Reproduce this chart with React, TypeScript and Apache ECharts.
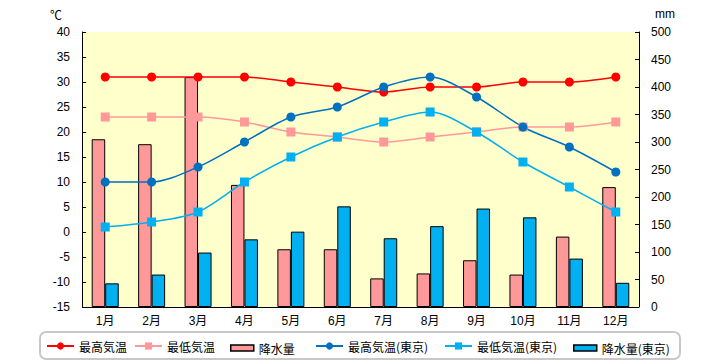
import React, { useEffect, useRef } from "react";
import * as echarts from "echarts";

const months = ["1月", "2月", "3月", "4月", "5月", "6月", "7月", "8月", "9月", "10月", "11月", "12月"];
const maxTemp = [31, 31, 31, 31, 30, 29, 28, 29, 29, 30, 30, 31];
const minTemp = [23, 23, 23, 22, 20, 19, 18, 19, 20, 21, 21, 22];
const rain = [305, 296, 418, 222, 105, 105, 52, 61, 85, 59, 128, 218];
const maxTempTokyo = [10, 10, 13, 18, 23, 25, 29, 31, 27, 21, 17, 12];
const minTempTokyo = [1, 2, 4, 10, 15, 19, 22, 24, 20, 14, 9, 4];
const rainTokyo = [43, 59, 99, 123, 137, 183, 125, 147, 179, 163, 88, 44];

const FONT = "'Liberation Sans', 'Noto Sans CJK JP', sans-serif";
const LFONT = "'Noto Sans CJK JP', sans-serif";

export default function App() {
  const ref = useRef<HTMLDivElement>(null);
  useEffect(() => {
    const chart = echarts.init(ref.current!, null, { renderer: "svg" });
    const lineLegend = (name: string, left: number) => ({
      data: [name],
      left,
      top: 340,
      itemWidth: 27,
      itemHeight: 9,
      textStyle: { color: "#000", fontSize: 12, fontFamily: LFONT },
      padding: 0,
      selectedMode: false,
    });
    const barLegend = (name: string, left: number, color: string) => ({
      data: [{ name, icon: "rect", itemStyle: { color, borderColor: "#000", borderWidth: 1.5 } }],
      left,
      top: 342,
      itemWidth: 23,
      itemHeight: 6,
      textStyle: { color: "#000", fontSize: 12, fontFamily: LFONT, padding: [0, 0, 0, 0] },
      padding: 0,
      selectedMode: false,
    });
    chart.setOption({
      animation: false,
      textStyle: { fontFamily: FONT },
      grid: {
        left: 82,
        right: 81,
        top: 32,
        bottom: 53,
        show: true,
        backgroundColor: "#FFFFCC",
        borderWidth: 0,
      },
      graphic: [
        {
          type: "rect",
          shape: { x: 40, y: 332, width: 640, height: 27, r: 6 },
          style: { fill: "#fff", stroke: "#c8c8c8", lineWidth: 2 },
          z: -1,
        },
        {
          type: "text",
          x: 56,
          y: 14,
          style: { text: "℃", fontSize: 12, fontFamily: LFONT, fill: "#000", align: "center", verticalAlign: "middle" },
        },
        {
          type: "text",
          x: 665,
          y: 14,
          style: { text: "mm", fontSize: 12, fontFamily: FONT, fill: "#000", align: "center", verticalAlign: "middle" },
        },
      ],
      legend: [
        lineLegend("最高気温", 46),
        lineLegend("最低気温", 134),
        barLegend("降水量", 230, "#FF9999"),
        lineLegend("最高気温(東京)", 315),
        lineLegend("最低気温(東京)", 444),
        barLegend("降水量(東京)", 573, "#00B0F0"),
      ],
      xAxis: {
        type: "category",
        data: months,
        axisLine: { show: false },
        axisTick: { show: false },
        axisLabel: { color: "#000", fontSize: 12, margin: 8, fontFamily: FONT },
      },
      yAxis: [
        {
          type: "value",
          min: -15,
          max: 40,
          interval: 5,
          position: "left",
          axisLine: { show: true, lineStyle: { color: "#000", width: 1 } },
          axisTick: { show: true, inside: true, length: 4, lineStyle: { color: "#000" } },
          axisLabel: { color: "#000", fontSize: 12, margin: 12, fontFamily: FONT },
          splitLine: { show: false },
        },
        {
          type: "value",
          min: 0,
          max: 500,
          interval: 50,
          position: "right",
          axisLine: { show: true, lineStyle: { color: "#000", width: 1 } },
          axisTick: { show: true, inside: true, length: 4, lineStyle: { color: "#000" } },
          axisLabel: { color: "#000", fontSize: 12, margin: 12, fontFamily: FONT },
          splitLine: { show: false },
        },
      ],
      series: [
        {
          name: "降水量",
          type: "bar",
          yAxisIndex: 1,
          data: rain,
          barWidth: 13.5,
          barGap: "0%",
          itemStyle: { color: "#FF9999", borderColor: "#000", borderWidth: 1 },
          z: 1,
        },
        {
          name: "降水量(東京)",
          type: "bar",
          yAxisIndex: 1,
          data: rainTokyo,
          barWidth: 13.5,
          barGap: "0%",
          itemStyle: { color: "#00B0F0", borderColor: "#000", borderWidth: 1 },
          z: 1,
          markLine: {
            silent: true,
            symbol: "none",
            label: { show: false },
            lineStyle: { color: "#000", width: 1, type: "solid" },
            data: [{ yAxis: 0 }],
          },
        },
        {
          name: "最高気温",
          type: "line",
          yAxisIndex: 0,
          data: maxTemp,
          smooth: 0.3,
          symbol: "circle",
          symbolSize: 9,
          itemStyle: { color: "#FF0000" },
          lineStyle: { color: "#FF0000", width: 1.5 },
          z: 3,
        },
        {
          name: "最低気温",
          type: "line",
          yAxisIndex: 0,
          data: minTemp,
          smooth: 0.3,
          symbol: "rect",
          symbolSize: 9,
          itemStyle: { color: "#FF9999" },
          lineStyle: { color: "#FF9999", width: 1.5 },
          z: 3,
        },
        {
          name: "最高気温(東京)",
          type: "line",
          yAxisIndex: 0,
          data: maxTempTokyo,
          smooth: 0.3,
          symbol: "circle",
          symbolSize: 9,
          itemStyle: { color: "#0070C0" },
          lineStyle: { color: "#0070C0", width: 1.5 },
          z: 3,
        },
        {
          name: "最低気温(東京)",
          type: "line",
          yAxisIndex: 0,
          data: minTempTokyo,
          smooth: 0.3,
          symbol: "rect",
          symbolSize: 9,
          itemStyle: { color: "#00B0F0" },
          lineStyle: { color: "#00B0F0", width: 1.5 },
          z: 3,
        },
      ],
    });
    return () => chart.dispose();
  }, []);
  return <div ref={ref} style={{ width: 720, height: 360, position: "absolute", left: 0, top: 0 }} />;
}
